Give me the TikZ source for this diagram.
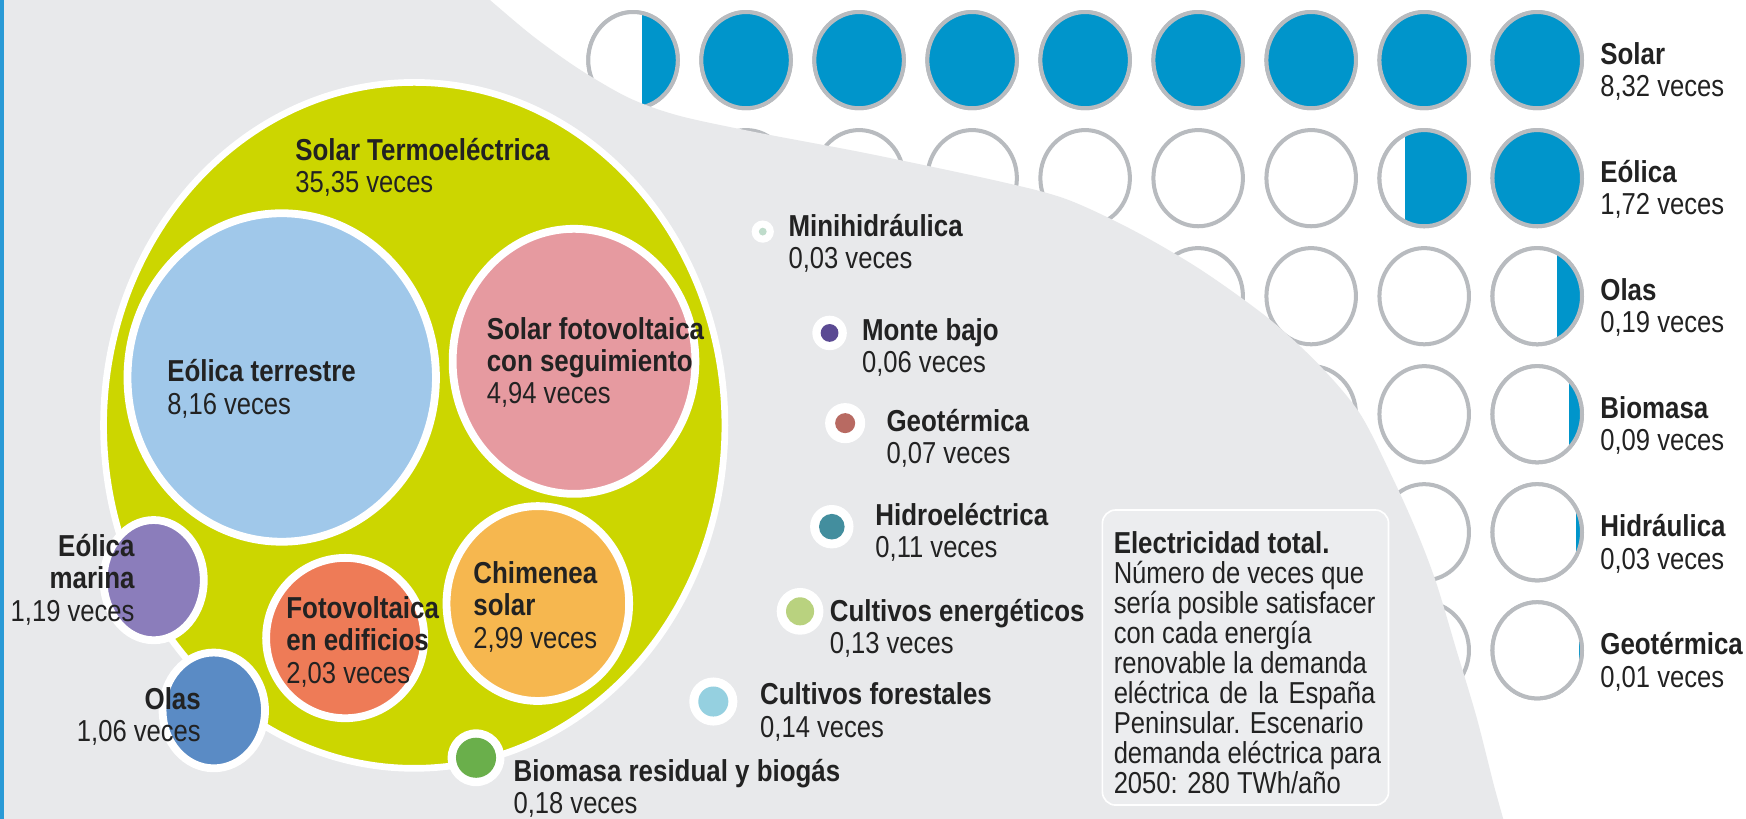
\documentclass[tikz,border=0pt]{standalone}
\usepackage{fontspec}
\setmainfont{Liberation Sans}[FakeStretch=0.845]
\newfontfamily\bfont{Liberation Sans}[FakeStretch=0.855]
\newcommand\tb[1]{{\bfont\bfseries #1}}
\definecolor{txt}{HTML}{222222}
\definecolor{bggray}{HTML}{E8E9EB}
\definecolor{boxgray}{HTML}{ECEDEF}
\definecolor{edgeblue}{HTML}{2A9AD6}
\definecolor{gblue}{HTML}{0095CB}
\definecolor{gring}{HTML}{B8BBBF}
\definecolor{ygreen}{HTML}{CCD600}
\definecolor{lblue}{HTML}{A0C8EA}
\definecolor{pink}{HTML}{E69AA0}
\definecolor{orng}{HTML}{F6B74F}
\definecolor{redor}{HTML}{EE7B57}
\definecolor{purp}{HTML}{8B7DBB}
\definecolor{olasb}{HTML}{5A8BC5}
\definecolor{minic}{HTML}{BFDCCB}
\definecolor{montec}{HTML}{5B4A93}
\definecolor{geoc}{HTML}{B86A62}
\definecolor{hidroc}{HTML}{438E9E}
\definecolor{cenc}{HTML}{B9D27F}
\definecolor{cforc}{HTML}{95D0E0}
\definecolor{biorc}{HTML}{6AAF4B}
\newcommand\gcirc[3]{%
  \fill[white] (#1,#2) ellipse [x radius=40.2pt, y radius=43.2pt];
  \begin{scope}
    \clip (#1,#2) ellipse [x radius=40.2pt, y radius=43.2pt];
    \fill[gblue] ({#1+40.2-80.4*#3},{#2-46}) rectangle ({#1+46},{#2+46});
  \end{scope}
  \draw[gring, line width=3.6pt] (#1,#2) ellipse [x radius=40.2pt, y radius=43.2pt];
}
\newcommand\twol[5]{%
  \node[lbl] (#1t) at (#2,#3) {\tb{#4}};
  \node[lbl] (#1v) at (#2,{#3+29}) {#5};
}
\begin{document}
\begin{tikzpicture}[x=1pt,y=-1pt,
  lbl/.style={anchor=base west, inner sep=0pt, text=txt,
    font=\fontsize{27.2}{29}\selectfont},
  lblr/.style={lbl, anchor=base east},
  bub/.style={draw=white, line width=7pt}]
\useasboundingbox (0,0) rectangle (1568,735.5);
\fill[white] (0,0) rectangle (1568,735.5);
% grid of circles
\foreach \r in {0,...,5}{
  \foreach \c in {0,...,8}{
    \gcirc{568.5+101.5*\c}{54+106*\r}{0}
  }
}
\foreach \c in {1,...,8}{\gcirc{568.5+101.5*\c}{54}{1.2}}
\gcirc{568.5}{54}{0.40}
\gcirc{1380.5}{160}{1.2}
\gcirc{1279}{160}{0.72}
\gcirc{1380.5}{266}{0.28}
\gcirc{1380.5}{372}{0.15}
\gcirc{1380.5}{478}{0.065}
\gcirc{1380.5}{584}{0.035}
% gray region
\fill[bggray] (0,0) -- plot[smooth] coordinates {(440,0) (478,32) (520,62) (565,88) (610,104) (680,119) (780,138) (898,163) (958,179) (1018,207) (1078,242) (1138,285) (1183,326) (1221,371) (1251,430) (1273,479) (1290,524) (1308,584) (1326,644) (1341,703) (1350,735.5)} -- (0,735.5) -- cycle;
\fill[edgeblue] (0,0) rectangle (3.5,735.5);
% big bubble and inner bubbles
\filldraw[bub, fill=ygreen, line width=6pt] (372,382) ellipse [x radius=279pt, y radius=308pt];
\filldraw[bub, fill=lblue] (253,339) ellipse [x radius=138.5pt, y radius=147.5pt];
\filldraw[bub, fill=pink] (515.5,324.5) ellipse [x radius=109pt, y radius=119pt];
\filldraw[bub, fill=orng] (483,542) ellipse [x radius=82pt, y radius=87.5pt];
\filldraw[bub, fill=redor] (310,573) ellipse [x radius=71pt, y radius=72pt];
\filldraw[bub, fill=purp] (138,521) ellipse [x radius=45pt, y radius=54pt];
\filldraw[bub, fill=olasb] (192,638) ellipse [x radius=46pt, y radius=52pt];
% small dots
\fill[white] (427.5,680.5) circle (25.5pt); \fill[biorc] (427.5,680.5) circle (18pt);
\fill[white] (685,208) circle (10pt); \fill[minic] (685,208) circle (3.5pt);
\fill[white] (745,299) circle (15.5pt); \fill[montec] (745,299) circle (8pt);
\fill[white] (759,380) circle (18pt); \fill[geoc] (759,380) circle (9pt);
\fill[white] (747,473) circle (19.5pt); \fill[hidroc] (747,473) circle (11.5pt);
\fill[white] (718.5,549) circle (21pt); \fill[cenc] (718.5,549) circle (12.6pt);
\fill[white] (640.6,630) circle (21.6pt); \fill[cforc] (640.6,630) circle (13.5pt);
% labels in bubbles
\twol{stt}{265}{143.7}{Solar Termoeléctrica}{35,35 veces}
\twol{eot}{150}{343}{Eólica terrestre}{8,16 veces}
\node[lbl] (sfs1) at (437,305) {\tb{Solar fotovoltaica}};
\node[lbl] (sfs2) at (437,333.5) {\tb{con seguimiento}};
\node[lbl] (sfs3) at (437,362) {4,94 veces};
\node[lbl] (chs1) at (425,524) {\tb{Chimenea}};
\node[lbl] (chs2) at (425,552.5) {\tb{solar}};
\node[lbl] (chs3) at (425,582) {2,99 veces};
\node[lbl] (fve1) at (257,555) {\tb{Fotovoltaica}};
\node[lbl] (fve2) at (257,584) {\tb{en edificios}};
\node[lbl] (fve3) at (257,613.5) {2,03 veces};
\node[lblr] (eom1) at (121,500) {\tb{Eólica}};
\node[lblr] (eom2) at (121,528.5) {\tb{marina}};
\node[lblr] (eom3) at (121,558.5) {1,19 veces};
\node[lblr] (ola1) at (180.5,637) {\tb{Olas}};
\node[lblr] (ola2) at (180.5,666) {1,06 veces};
% small labels
\twol{mini}{708}{212}{Minihidráulica}{0,03 veces}
\twol{mont}{774}{305.5}{Monte bajo}{0,06 veces}
\twol{geo}{796}{387.5}{Geotérmica}{0,07 veces}
\twol{hid}{786}{472}{Hidroeléctrica}{0,11 veces}
\twol{cen}{745}{558}{Cultivos energéticos}{0,13 veces}
\twol{cfo}{682.5}{633}{Cultivos forestales}{0,14 veces}
\twol{bio}{461}{702}{Biomasa residual y biogás}{0,18 veces}
% right labels
\twol{rsol}{1437}{58}{Solar}{8,32 veces}
\twol{reol}{1437}{164}{Eólica}{1,72 veces}
\twol{rola}{1437}{270}{Olas}{0,19 veces}
\twol{rbio}{1437}{376}{Biomasa}{0,09 veces}
\twol{rhid}{1437}{482}{Hidráulica}{0,03 veces}
\twol{rgeo}{1437}{588}{Geotérmica}{0,01 veces}
% box
\filldraw[draw=white, line width=1.5pt, fill=boxgray, rounded corners=12pt] (990,458) rectangle (1247,723);
\node[lbl] (bx1) at (1000,497) {\tb{Electricidad total.}};
\node[lbl] (bx2) at (1000,524) {Número de veces que};
\node[lbl] (bx3) at (1000,551) {sería posible satisfacer};
\node[lbl] (bx4) at (1000,578) {con cada energía};
\node[lbl] (bx5) at (1000,605) {renovable la demanda};
\node[lbl] (bx6) at (1000,632) {\makebox[235pt][s]{eléctrica de la España}};
\node[lbl] (bx7) at (1000,659) {Peninsular. Escenario};
\node[lbl] (bx8) at (1000,686) {demanda eléctrica para};
\node[lbl] (bx9) at (1000,713) {2050: 280 TWh/año};
\end{tikzpicture}
\end{document}
